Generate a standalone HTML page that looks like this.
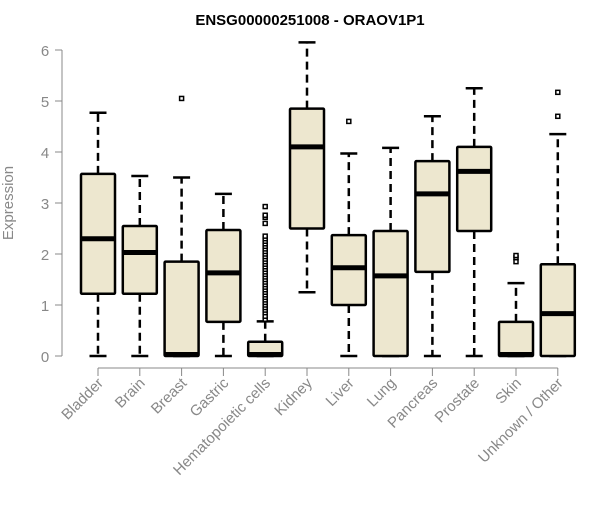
<!DOCTYPE html>
<html><head><meta charset="utf-8"><style>
body{margin:0;background:#fff;}
svg text{font-family:"Liberation Sans",sans-serif;}
</style></head><body>
<svg id="chart" width="600" height="500" xmlns="http://www.w3.org/2000/svg">
<text x="310" y="25" text-anchor="middle" font-weight="bold" font-size="15">ENSG00000251008 - ORAOV1P1</text>
<text transform="translate(13,203) rotate(-90)" text-anchor="middle" font-size="15" fill="#888">Expression</text>
<g id="g"></g>
</svg>
<script>
const categories=["Bladder","Brain","Breast","Gastric","Hematopoietic cells","Kidney","Liver","Lung","Pancreas","Prostate","Skin","Unknown / Other"];
const whiskerLow=[0,0,0,0,0,1.25,0,0,0,0,0,0];
const q1=[1.22,1.22,0,0.67,0,2.5,1.0,0,1.65,2.45,0,0];
const medians=[2.3,2.03,0.03,1.63,0.03,4.1,1.73,1.57,3.18,3.62,0.03,0.83];
const q3=[3.57,2.55,1.85,2.47,0.28,4.85,2.37,2.45,3.82,4.1,0.67,1.8];
const whiskerHigh=[4.77,3.53,3.5,3.18,0.68,6.15,3.97,4.08,4.7,5.25,1.43,4.35];
const outliers=[[],[],[5.05],[],[0.72,0.78,0.85,0.9,0.95,1.0,1.05,1.1,1.15,1.2,1.25,1.3,1.35,1.4,1.45,1.5,1.55,1.6,1.65,1.7,1.75,1.8,1.85,1.9,1.95,2.0,2.05,2.1,2.15,2.2,2.25,2.3,2.35,2.6,2.72,2.76,2.93],[],[4.6],[],[],[],[1.85,1.93,1.97],[4.7,5.17]];
const yTicks=[0,1,2,3,4,5,6];
const NS="http://www.w3.org/2000/svg";
const g=document.getElementById("g");
const y=v=>356-v*51;
const x=i=>98+i*41.8;
function mk(t,a,p){const e=document.createElementNS(NS,t);for(const k in a)e.setAttribute(k,a[k]);(p||g).appendChild(e);return e;}
// y axis
let ax=mk("line",{x1:62,x2:62,y1:y(0),y2:y(6),stroke:"#888"});


yTicks.forEach(v=>{
 mk("line",{x1:55,x2:62,y1:y(v),y2:y(v),stroke:"#888"});
 let t=mk("text",{x:45,y:y(v)+6,"text-anchor":"middle","font-size":15,fill:"#888"});
 t.textContent=v;
 
 
});
// x axis
let xa=mk("line",{x1:x(0),x2:x(categories.length-1),y1:368,y2:368,stroke:"#888"});


categories.forEach((c,i)=>{
 const cx=x(i),hw=17,cw=8.5;
 mk("line",{x1:cx,x2:cx,y1:368,y2:376,stroke:"#888"});
 let t=mk("text",{transform:`translate(${cx+6},${384}) rotate(-45)`,"text-anchor":"end","font-size":15,fill:"#888"});
 t.textContent=c;
 
 
 const bg=mk("g",{});
 
 
 mk("line",{x1:cx,x2:cx,y1:y(q3[i]),y2:y(whiskerHigh[i]),stroke:"#000","stroke-width":2.5,"stroke-dasharray":"8,5"},bg);
 mk("line",{x1:cx,x2:cx,y1:y(q1[i]),y2:y(whiskerLow[i]),stroke:"#000","stroke-width":2.5,"stroke-dasharray":"8,5"},bg);
 mk("line",{x1:cx-cw,x2:cx+cw,y1:y(whiskerHigh[i]),y2:y(whiskerHigh[i]),stroke:"#000","stroke-width":2.5},bg);
 mk("line",{x1:cx-cw,x2:cx+cw,y1:y(whiskerLow[i]),y2:y(whiskerLow[i]),stroke:"#000","stroke-width":2.5},bg);
 mk("rect",{x:cx-hw,y:y(q3[i]),width:2*hw,height:Math.max(y(q1[i])-y(q3[i]),0.5),fill:"#ede7cf",stroke:"#000","stroke-width":2.5,rx:1},bg);
 mk("line",{x1:cx-hw,x2:cx+hw,y1:y(medians[i]),y2:y(medians[i]),stroke:"#000","stroke-width":5},bg);
 outliers[i].forEach(v=>{
  let o=mk("rect",{x:cx-2,y:y(v)-2,width:4,height:4,fill:"#fff",stroke:"#000","stroke-width":1.5},bg);
  
  
 });
});
</script>
</body></html>
